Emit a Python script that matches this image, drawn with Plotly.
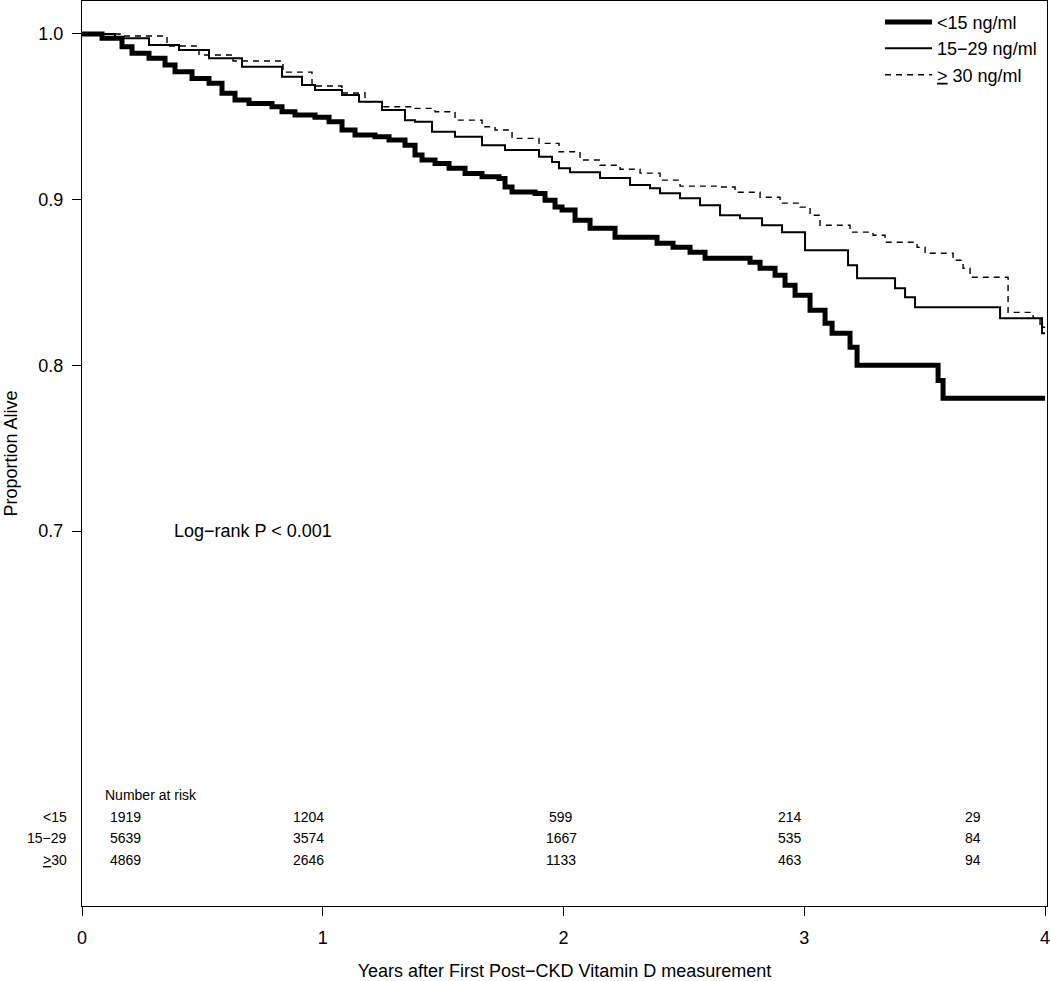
import plotly.graph_objects as go

# ---------------- data ----------------
# Kaplan-Meier step points: time (years) and survival from that time on
t_lt15 = [0.0, 0.0831, 0.1662, 0.2077, 0.2783, 0.3448, 0.3863, 0.4569, 0.5275, 0.5815,
          0.6355, 0.6937, 0.7892, 0.8307, 0.8847, 0.9678, 1.0260, 1.0800, 1.1340, 1.2170,
          1.2752, 1.3416, 1.3832, 1.4123, 1.4663, 1.5244, 1.5909, 1.6615, 1.7321, 1.7570,
          1.7861, 1.8816, 1.9231, 1.9647, 1.9938, 2.0478, 2.1101, 2.2139, 2.3884, 2.4548,
          2.5255, 2.5878, 2.7747, 2.8162, 2.8785, 2.9200, 2.9616, 3.0239, 3.0862, 3.1153,
          3.1900, 3.2191, 3.5556, 3.5763, 4.0]
s_lt15 = [1.0, 0.9974, 0.9923, 0.9883, 0.9853, 0.9813, 0.9772, 0.9732, 0.9702, 0.9642,
          0.9601, 0.9581, 0.9561, 0.9531, 0.9511, 0.9497, 0.9470, 0.9420, 0.9390, 0.9379,
          0.9360, 0.9329, 0.9269, 0.9239, 0.9219, 0.9189, 0.9158, 0.9138, 0.9128, 0.9077,
          0.9047, 0.9037, 0.8997, 0.8956, 0.8937, 0.8876, 0.8828, 0.8773, 0.8737, 0.8713,
          0.8683, 0.8647, 0.8622, 0.8586, 0.8544, 0.8483, 0.8423, 0.8332, 0.8254, 0.8193,
          0.8109, 0.8000, 0.7909, 0.7801, 0.7801]

t_15_29 = [0.0, 0.1371, 0.2783, 0.4029, 0.5275, 0.6646, 0.8307, 0.9138, 0.9678, 1.0800,
           1.1506, 1.2461, 1.3416, 1.3832, 1.4538, 1.5493, 1.6615, 1.7570, 1.8982, 1.9522,
           1.9813, 2.0270, 2.1516, 2.2762, 2.3593, 2.4008, 2.4839, 2.5670, 2.6501, 2.7331,
           2.8245, 2.9076, 3.0031, 3.1817, 3.2191, 3.3769, 3.4185, 3.4600, 3.8131, 3.9875,
           4.0]
s_15_29 = [1.0, 0.9974, 0.9934, 0.9903, 0.9853, 0.9802, 0.9742, 0.9692, 0.9662, 0.9631,
           0.9591, 0.9541, 0.9480, 0.9470, 0.9410, 0.9379, 0.9329, 0.9299, 0.9259, 0.9228,
           0.9189, 0.9166, 0.9130, 0.9088, 0.9069, 0.9039, 0.9009, 0.8967, 0.8906, 0.8888,
           0.8846, 0.8804, 0.8695, 0.8604, 0.8526, 0.8465, 0.8411, 0.8350, 0.8284, 0.8193,
           0.8193]

t_ge30 = [0.0, 0.1578, 0.3531, 0.4860, 0.6272, 0.8349, 0.9553, 1.0800, 1.1755, 1.2461,
          1.3832, 1.4663, 1.5493, 1.6615, 1.7155, 1.7861, 1.8982, 1.9813, 2.0685, 2.1516,
          2.2347, 2.3178, 2.4008, 2.4839, 2.6501, 2.7124, 2.8162, 2.8993, 2.9823, 3.0239,
          3.0654, 3.1900, 3.2856, 3.3354, 3.4683, 3.5016, 3.6179, 3.6594, 3.6885, 3.8463,
          3.9502, 3.9792, 4.0]
s_ge30 = [1.0, 0.9988, 0.9927, 0.9873, 0.9837, 0.9770, 0.9686, 0.9644, 0.9591, 0.9561,
          0.9551, 0.9531, 0.9480, 0.9440, 0.9420, 0.9370, 0.9340, 0.9289, 0.9239, 0.9208,
          0.9184, 0.9160, 0.9118, 0.9082, 0.9076, 0.9045, 0.9015, 0.8979, 0.8955, 0.8906,
          0.8846, 0.8804, 0.8785, 0.8743, 0.8713, 0.8677, 0.8634, 0.8586, 0.8532, 0.8320,
          0.8284, 0.8230, 0.8230]

group_names = ["<15 ng/ml", "15\u221229 ng/ml", "<u>></u> 30 ng/ml"]
risk_row_labels = ["<15", "15\u221229", "<u>></u>30"]
risk_times = [0, 1, 2, 3, 4]
risk_lt15 = [1919, 1204, 599, 214, 29]
risk_15_29 = [5639, 3574, 1667, 535, 84]
risk_ge30 = [4869, 2646, 1133, 463, 94]

x_ticks = [0, 1, 2, 3, 4]
y_ticks = [0.7, 0.8, 0.9, 1.0]

# ---------------- figure ----------------
FONT = "Liberation Sans, Arial, Helvetica, sans-serif"
fig = go.Figure()

series = [
    (t_lt15, s_lt15, group_names[0], dict(color="black", width=5)),
    (t_15_29, s_15_29, group_names[1], dict(color="black", width=2)),
    (t_ge30, s_ge30, group_names[2], dict(color="black", width=1.4, dash="6px,5px")),
]
for tx, sy, name, ln in series:
    fig.add_trace(go.Scatter(x=tx, y=sy, mode="lines", name=name, legendgroup="km",
                             line=dict(shape="hv", **ln)))

annotations = []
# number at risk table (label x positions are layout only)
risk_label_x = [0.18, 0.94, 1.99, 2.94, 3.70]
row_y = [0.0873, 0.0641, 0.0398]
annotations.append(dict(x=0.088, y=0.1116, xref="x", yref="paper", text="Number at risk",
                        showarrow=False, xanchor="left", font=dict(size=14)))
for r, (lab, vals) in enumerate(zip(risk_row_labels, [risk_lt15, risk_15_29, risk_ge30])):
    annotations.append(dict(x=-0.0135, y=row_y[r], xref="paper", yref="paper", text=lab,
                            showarrow=False, xanchor="right", font=dict(size=14)))
    for c, v in enumerate(vals):
        annotations.append(dict(x=risk_label_x[c], y=row_y[r], xref="x", yref="paper",
                                text=str(v), showarrow=False, xanchor="center",
                                font=dict(size=14)))
annotations.append(dict(x=0.374, y=0.70, xref="x", yref="y", text="Log\u2212rank P < 0.001",
                        showarrow=False, xanchor="left", font=dict(size=18)))

fig.update_layout(
    width=1050, height=981,
    margin=dict(l=82, r=3, t=1, b=75),
    paper_bgcolor="white", plot_bgcolor="white",
    font=dict(family=FONT, size=18, color="black"),
    showlegend=True,
    legend=dict(x=0.827, y=0.997, xanchor="left", yanchor="top",
                bgcolor="rgba(0,0,0,0)", font=dict(size=18), tracegroupgap=0,
                itemwidth=47),
    annotations=annotations,
)
fig.update_xaxes(range=[0, 4.008], tickvals=x_ticks, ticktext=[str(v) for v in x_ticks],
                 ticks="outside", ticklen=9, tickwidth=1, tickcolor="black",
                 showline=True, linecolor="black", linewidth=1, mirror=True,
                 showgrid=False, zeroline=False, tickfont=dict(size=18),
                 ticklabelstandoff=6, ticklabeloverflow="allow", automargin=False,
                 title=dict(text="Years after First Post\u2212CKD Vitamin D measurement",
                            font=dict(size=18), standoff=25))
fig.update_yaxes(range=[0.4737, 1.0199], tickvals=y_ticks,
                 ticktext=["0.7", "0.8", "0.9", "1.0"],
                 ticks="outside", ticklen=9, tickwidth=1, tickcolor="black",
                 showline=True, linecolor="black", linewidth=1, mirror=True,
                 showgrid=False, zeroline=False, tickfont=dict(size=18),
                 ticklabelstandoff=5, automargin=False,
                 title=dict(text="Proportion Alive", font=dict(size=18), standoff=16))

fig.write_html("out.html", config={"displayModeBar": False},
               post_script="document.body.style.margin='0px';")
